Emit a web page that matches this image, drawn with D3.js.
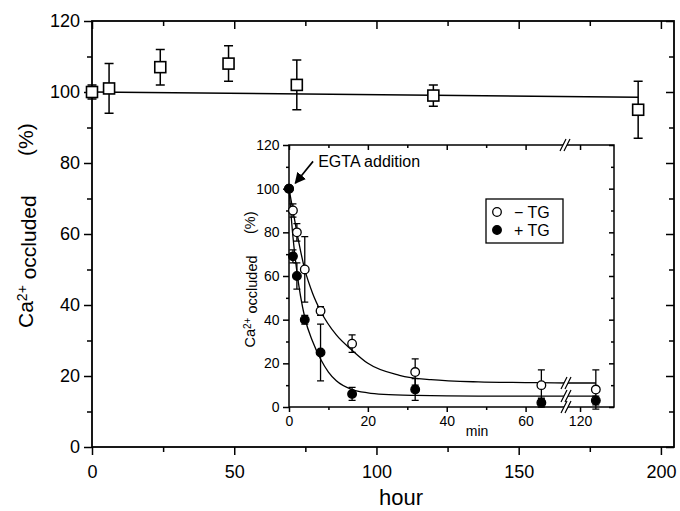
<!DOCTYPE html>
<html>
<head>
<meta charset="utf-8">
<script src="https://cdn.jsdelivr.net/npm/d3@7"></script>
<style>
  body { margin: 0; background: #fff; }
  svg { display: block; font-family: "Liberation Sans", Arial, sans-serif; }
</style>
</head>
<body>
<svg id="chart" width="680" height="511"></svg>
<script>
// main plot: occluded Ca over hours
const hours = [0, 6, 24, 48, 72, 120, 192];
const occluded = [100, 101, 107, 108, 102, 99, 95];
const occludedErr = [2, 7, 5, 5, 7, 3, 8];
const mainFitX = [0, 192];
const mainFitY = [100, 98.5];

// inset: minutes after EGTA addition
const minutes = [0, 1, 2, 4, 8, 16, 32, 64, 124];
const minusTG = [100, 90, 80, 63, 44, 29, 16, 10, 8];
const minusTGErr = [0, 3, 4, 15, 2, 4, 6, 7, 9];
const plusTG = [100, 69, 60, 40, 25, 6, 8, 2, 3];
const plusTGErr = [0, 3, 6, 2, 13, 3, 5, 2, 2];

// fitted curves
const minusFitT = [0, 1, 2, 4, 6, 8, 12, 16, 20, 28, 36, 48, 60, 70.5, 116.7, 124];
const minusFitY = [100, 90, 80, 63, 52, 44, 33, 26, 20, 14.5, 12.5, 11.5, 11.2, 11, 11, 11];
const plusFitT = [0, 1, 2, 4, 6, 8, 10, 12, 16, 20, 24, 32, 48, 70.5, 116.7, 124];
const plusFitY = [100, 78, 62, 41, 30, 22, 16, 12, 8, 6.5, 5.8, 5.3, 5, 5, 5, 5];

const yTicks = [0, 20, 40, 60, 80, 100, 120];
const hourTicks = [0, 50, 100, 150, 200];
const minTicks = [0, 20, 40, 60, 120];

let svg = d3.select("#chart");

// ---------- main plot ----------
let x = d3.scaleLinear().domain([0, 204.6]).range([92, 674]);
let y = d3.scaleLinear().domain([0, 120]).range([447, 21]);

function ticks(g, axis, major, minor, bigSize, smallSize, fmt, pad, fontSize) {
  g.append("g").call(axis.tickValues(minor).tickSize(smallSize).tickFormat(""))
    .call(s => s.select(".domain").remove());
  g.append("g").call(axis.tickValues(major).tickSize(bigSize).tickPadding(pad).tickFormat(fmt))
    .call(s => s.select(".domain").remove());
  g.selectAll("line").attr("stroke", "#000").attr("stroke-width", 1.5);
  g.selectAll("text").attr("fill", "#000").style("font-size", fontSize + "px")
    .style("font-family", "\"Liberation Sans\", Arial, sans-serif");
}

let main = svg.append("g");
let hourMinor = d3.range(25, 205, 50);
let yMinor = d3.range(10, 120, 20);

ticks(main.append("g").attr("transform", "translate(0,447)"), d3.axisBottom(x),
  hourTicks, hourMinor, 8, 5, d3.format("d"), 10, 18);
ticks(main.append("g").attr("transform", "translate(92,0)"), d3.axisLeft(y),
  yTicks, yMinor, 8, 5, d3.format("d"), 4, 18);
ticks(main.append("g").attr("transform", "translate(0,21)"), d3.axisTop(x),
  hourTicks, hourMinor, -8, -5, "", 0, 18);
ticks(main.append("g").attr("transform", "translate(674,0)"), d3.axisRight(y),
  yTicks, yMinor, -8, -5, "", 0, 18);

main.append("rect")
  .attr("x", 92).attr("y", 21).attr("width", 674 - 92).attr("height", 447 - 21)
  .attr("fill", "none").attr("stroke", "#000").attr("stroke-width", 1.8);

main.append("text").attr("x", 401).attr("y", 505)
  .attr("text-anchor", "middle").style("font-size", "22px").text("hour");

let yLab = main.append("text").attr("transform", "translate(33,328) rotate(-90)")
  .style("font-size", "21px");
yLab.append("tspan").text("Ca");
yLab.append("tspan").attr("dy", "-0.45em").style("font-size", "14px").text("2+");
yLab.append("tspan").attr("dy", "0.45em").text(" occluded");
main.append("text").attr("transform", "translate(33,156) rotate(-90)")
  .style("font-size", "21px").text("(%)");

let mainLine = d3.line().x((d, i) => x(mainFitX[i])).y(d => y(d));
main.append("path").attr("d", mainLine(mainFitY))
  .attr("fill", "none").attr("stroke", "#000").attr("stroke-width", 1.5);

let mainPts = hours.map((h, i) => ({ h: h, v: occluded[i], e: occludedErr[i] }));
let errG = main.append("g").attr("stroke", "#000").attr("stroke-width", 1.5);
errG.selectAll(".bar").data(mainPts).join("path")
  .attr("fill", "none")
  .attr("d", d => {
    let cx = x(d.h), t = y(d.v + d.e), b = y(d.v - d.e);
    return `M${cx},${t}V${b}M${cx - 4.5},${t}H${cx + 4.5}M${cx - 4.5},${b}H${cx + 4.5}`;
  });
main.selectAll(".sq").data(mainPts).join("rect")
  .attr("x", d => x(d.h) - 5.5).attr("y", d => y(d.v) - 5.5)
  .attr("width", 11).attr("height", 11)
  .attr("fill", "#fff").attr("stroke", "#000").attr("stroke-width", 1.6);

// ---------- inset ----------
let xa = d3.scaleLinear().domain([0, 70.5]).range([289, 567]);
let xb = d3.scaleLinear().domain([116.7, 128.6]).range([567, 614]);
let xi = t => (t <= 90 ? xa(t) : xb(t));
let yi = d3.scaleLinear().domain([0, 120]).range([407, 145]);

let inset = svg.append("g");
inset.append("rect").attr("x", 289).attr("y", 145).attr("width", 325).attr("height", 262)
  .attr("fill", "#fff");

let minMajorA = [0, 20, 40, 60];
let minMinorA = [10, 30, 50];
let yMinorI = d3.range(10, 120, 20);

ticks(inset.append("g").attr("transform", "translate(0,407)"), d3.axisBottom(xa),
  minMajorA, minMinorA, 5, 3, d3.format("d"), 4, 14);
ticks(inset.append("g").attr("transform", "translate(0,407)"), d3.axisBottom(xb),
  [120], [], 5, 3, d3.format("d"), 4, 14);
ticks(inset.append("g").attr("transform", "translate(0,145)"), d3.axisTop(xa),
  minMajorA, minMinorA, -5, -3, "", 0, 14);
ticks(inset.append("g").attr("transform", "translate(0,145)"), d3.axisTop(xb),
  [120], [], -5, -3, "", 0, 14);
ticks(inset.append("g").attr("transform", "translate(289,0)"), d3.axisLeft(yi),
  yTicks, yMinorI, 6, 3, d3.format("d"), 3.5, 14);
ticks(inset.append("g").attr("transform", "translate(614,0)"), d3.axisRight(yi),
  yTicks, yMinorI, -5, -3, "", 0, 14);

inset.append("rect").attr("x", 289).attr("y", 145).attr("width", 325).attr("height", 262)
  .attr("fill", "none").attr("stroke", "#000").attr("stroke-width", 1.5);

inset.append("text").attr("x", 477).attr("y", 436)
  .attr("text-anchor", "middle").style("font-size", "14px").text("min");

let iLab = inset.append("text").attr("transform", "translate(255,347.5) rotate(-90)")
  .style("font-size", "14.5px");
iLab.append("tspan").text("Ca");
iLab.append("tspan").attr("dy", "-0.45em").style("font-size", "10px").text("2+");
iLab.append("tspan").attr("dy", "0.45em").text(" occluded");
inset.append("text").attr("transform", "translate(255,234) rotate(-90)")
  .style("font-size", "14.5px").text("(%)");

// fitted curves
let fitLine = d3.line().x(d => xi(d[0])).y(d => yi(d[1])).curve(d3.curveMonotoneX);
let fits = [d3.zip(minusFitT, minusFitY), d3.zip(plusFitT, plusFitY)];
inset.selectAll(".fit").data(fits).join("path")
  .attr("d", fitLine)
  .attr("fill", "none").attr("stroke", "#000").attr("stroke-width", 1.3);

// break marks
function breakMark(cx, cy) {
  let g = inset.append("g");
  g.append("path")
    .attr("d", `M${cx - 5},${cy + 6}L${cx + 1},${cy - 6}L${cx + 5},${cy - 6}L${cx - 1},${cy + 6}Z`)
    .attr("fill", "#fff");
  g.append("path")
    .attr("d", `M${cx - 5},${cy + 6}L${cx + 1},${cy - 6}M${cx - 1},${cy + 6}L${cx + 5},${cy - 6}`)
    .attr("stroke", "#000").attr("stroke-width", 1.2).attr("fill", "none");
}
breakMark(565, 145);
breakMark(566, yi(minusFitY[minusFitY.length - 1]));
breakMark(566, yi(plusFitY[plusFitY.length - 1]));
breakMark(566, 407);

// error bars and points
let series = [
  { vals: minusTG, errs: minusTGErr, fill: "#fff" },
  { vals: plusTG, errs: plusTGErr, fill: "#000" }
];
series.forEach(s => {
  let pts = minutes.map((m, i) => ({ m: m, v: s.vals[i], e: s.errs[i] }));
  inset.append("g").selectAll("path").data(pts.filter(d => d.e > 0)).join("path")
    .attr("fill", "none").attr("stroke", "#000").attr("stroke-width", 1.3)
    .attr("d", d => {
      let cx = xi(d.m), t = yi(d.v + d.e), b = yi(d.v - d.e);
      return `M${cx},${t}V${b}M${cx - 3.5},${t}H${cx + 3.5}M${cx - 3.5},${b}H${cx + 3.5}`;
    });
});
series.forEach(s => {
  let pts = minutes.map((m, i) => ({ m: m, v: s.vals[i] }));
  inset.append("g").selectAll("circle").data(pts).join("circle")
    .attr("cx", d => xi(d.m)).attr("cy", d => yi(d.v))
    .attr("r", 4.3)
    .attr("fill", s.fill).attr("stroke", "#000").attr("stroke-width", 1.3);
});

// EGTA annotation
svg.append("defs").append("marker")
  .attr("id", "head").attr("viewBox", "0 0 10 10").attr("refX", 9).attr("refY", 5)
  .attr("markerWidth", 7).attr("markerHeight", 7).attr("orient", "auto")
  .append("path").attr("d", "M0,0L10,5L0,10Z").attr("fill", "#000");
inset.append("line")
  .attr("x1", xi(6.1)).attr("y1", yi(112.5))
  .attr("x2", xi(1.6)).attr("y2", yi(102.5))
  .attr("stroke", "#000").attr("stroke-width", 1.6).attr("marker-end", "url(#head)");
inset.append("text").attr("x", xi(7.4)).attr("y", yi(109.8))
  .style("font-size", "16px").text("EGTA addition");

// legend
let leg = inset.append("g");
leg.append("rect").attr("x", 486).attr("y", 199).attr("width", 77).attr("height", 44)
  .attr("fill", "#fff").attr("stroke", "#000").attr("stroke-width", 1.3);
let legItems = [
  { label: "\u2212 TG", fill: "#fff" },
  { label: "+ TG", fill: "#000" }
];
legItems.forEach((d, i) => {
  leg.append("circle").attr("cx", 497).attr("cy", 212 + i * 18).attr("r", 4.3)
    .attr("fill", d.fill).attr("stroke", "#000").attr("stroke-width", 1.3);
  leg.append("text").attr("x", 514).attr("y", 218 + i * 18)
    .style("font-size", "16px").text(d.label);
});
</script>
</body>
</html>
